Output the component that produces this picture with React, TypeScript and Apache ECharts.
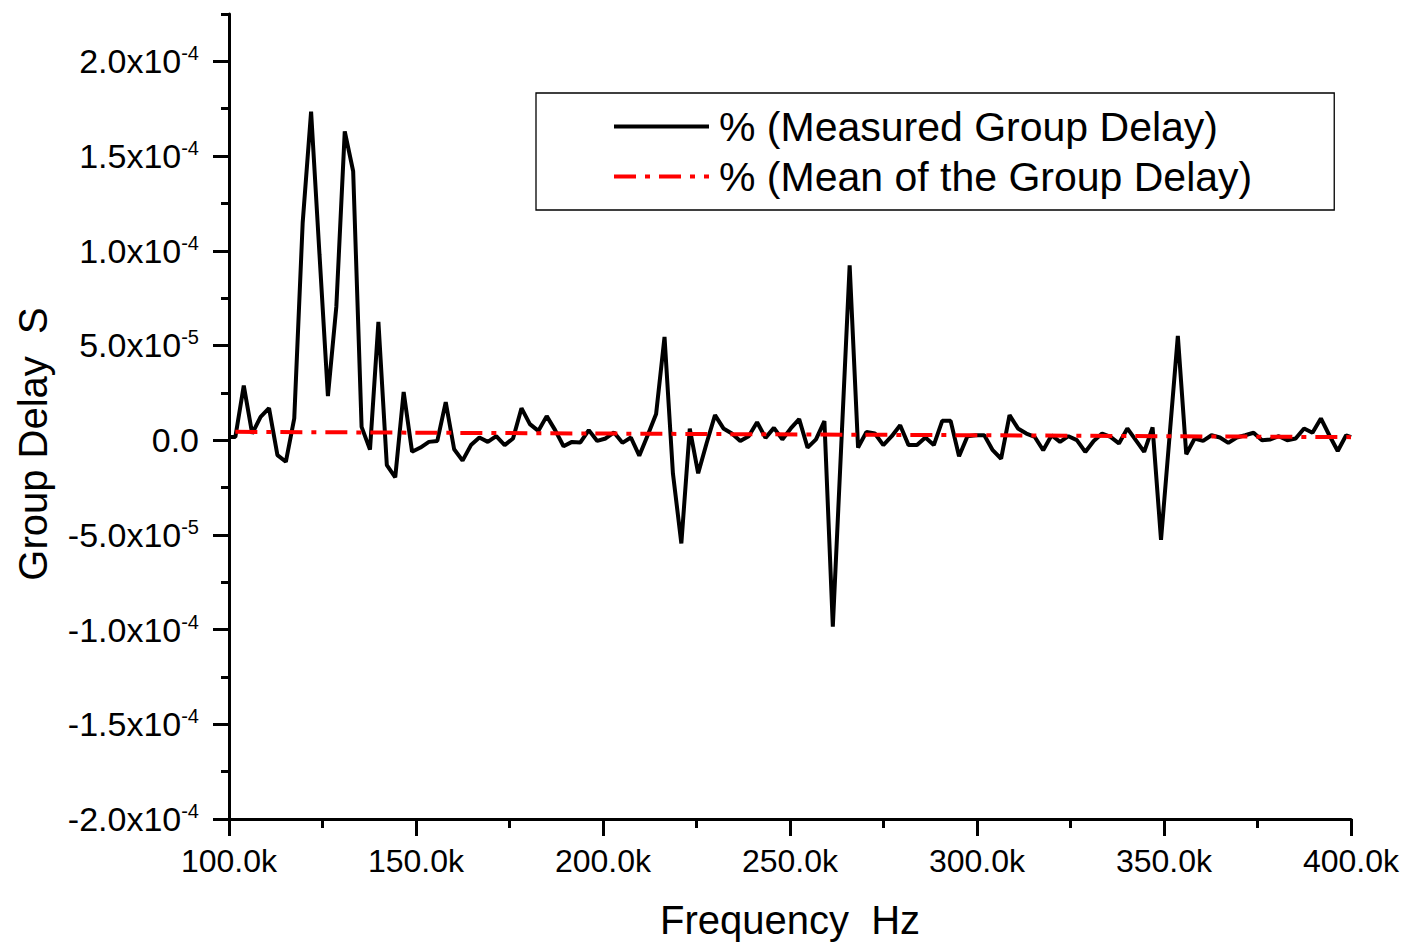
import React, { useEffect, useRef } from "react";
import * as echarts from "echarts";

// Group delay readings in units of 1e-5 s, one every 2.25 kHz from 101.7 kHz.
const SAMPLE_START_KHZ = 101.7;
const SAMPLE_STEP_KHZ = 2.25;
const measuredDelay = [
  0.17, 2.88, 0.35, 1.23, 1.69, -0.79, -1.14, 1.15, 11.48, 17.35,
  9.79, 2.33, 7.05, 16.3, 14.2, 0.7, -0.5, 6.24, -1.32, -1.96,
  2.54, -0.61, -0.39, -0.09, -0.04, 2.01, -0.48, -1.08, -0.26, 0.14,
  -0.09, 0.21, -0.26, 0.09, 1.69, 0.85, 0.49, 1.27, 0.53, -0.32,
  -0.09, -0.12, 0.53, -0.04, 0.09, 0.41, -0.14, 0.14, -0.82, 0.26,
  1.38, 5.45, -1.76, -5.45, 0.61, -1.75, -0.16, 1.32, 0.62, 0.35,
  -0.04, 0.21, 0.95, 0.12, 0.65, 0.04, 0.62, 1.11, -0.39, 0.04,
  1.01, -9.84, -0.29, 9.23, -0.39, 0.44, 0.35, -0.26, 0.21, 0.79,
  -0.26, -0.26, 0.14, -0.26, 1.02, 1.02, -0.85, 0.21, 0.26, 0.26,
  -0.53, -0.98, 1.32, 0.62, 0.35, 0.17, -0.53, 0.26, -0.09, 0.21,
  0, -0.62, -0.04, 0.35, 0.17, -0.17, 0.62, 0, -0.62, 0.67,
  -5.26, 0.12, 5.5, -0.74, 0.09, -0.04, 0.26, 0.14, -0.14, 0.14,
  0.26, 0.39, 0, 0.04, 0.21, 0, 0.09, 0.62, 0.39, 1.15,
  0.26, -0.57, 0.26,
];
// Readings at the two band edges (kHz, 1e-5 s)
const edgeFreqKHz = [100, 400];
const edgeDelay = [0.17, 0.16];

// Mean of the group delay (kHz, 1e-5 s)
const meanFreqKHz = [101.7, 200, 300, 400];
const meanDelay = [0.44, 0.35, 0.26, 0.16];

// Axes
const xMin = 100;
const xMax = 400;
const xInterval = 50;
const yMin = -20;
const yMax = 22.5;
const yTickValues = [-20, -15, -10, -5, 0, 5, 10, 15, 20];
const yTickMantissa = ["-2.0", "-1.5", "-1.0", "-5.0", "0.0", "5.0", "1.0", "1.5", "2.0"];
const yTickExponent = ["-4", "-4", "-4", "-5", "", "-5", "-4", "-4", "-4"];
const yMinorTickValues = [-17.5, -12.5, -7.5, -2.5, 2.5, 7.5, 12.5, 17.5, 22.5];

const seriesNames = ["% (Measured Group Delay)", "% (Mean of the Group Delay)"];
const xAxisTitle = "Frequency  Hz";
const yAxisTitle = "Group Delay  S";

const FONT = '"Liberation Sans", Arial, Helvetica, sans-serif';

export default function App() {
  const ref = useRef<HTMLDivElement>(null);

  useEffect(() => {
    if (!ref.current) return;
    const chart = echarts.init(ref.current, undefined, { renderer: "svg" });

    const measuredPoints: number[][] = [
      [edgeFreqKHz[0], edgeDelay[0]],
      ...measuredDelay.map((v, i) => [SAMPLE_START_KHZ + i * SAMPLE_STEP_KHZ, v]),
      [edgeFreqKHz[1], edgeDelay[1]],
    ];
    const meanPoints = meanFreqKHz.map((f, i) => [f, meanDelay[i]]);

    const axisLine = { show: true, onZero: false, lineStyle: { color: "#000", width: 3 } };

    chart.setOption({
      animation: false,
      backgroundColor: "#fff",
      grid: {
        left: 229,
        right: 54,
        top: 14,
        bottom: 123,
        containLabel: false,
        outerBoundsMode: "none",
      },
      legend: {
        left: 536,
        top: 93,
        orient: "vertical",
        itemWidth: 95,
        itemHeight: 4,
        itemGap: 9,
        padding: [13, 82, 13, 76],
        borderColor: "#000",
        borderWidth: 1.3,
        selectedMode: false,
        itemStyle: { opacity: 0, borderWidth: 0 },
        lineStyle: { width: 4 },
        textStyle: { fontSize: 41, fontFamily: FONT, color: "#000", padding: [0, 0, 0, 5] },
        data: seriesNames,
      },
      xAxis: {
        type: "value",
        min: xMin,
        max: xMax,
        interval: xInterval,
        axisLine,
        axisTick: { show: true, inside: false, length: 17, lineStyle: { color: "#000", width: 3 } },
        minorTick: { show: true, splitNumber: 2, length: 9, lineStyle: { color: "#000", width: 3 } },
        splitLine: { show: false },
        axisLabel: {
          margin: 26,
          fontSize: 32,
          fontFamily: FONT,
          color: "#000",
          formatter: (v: number) => `${v.toFixed(1)}k`,
        },
        name: xAxisTitle,
        nameLocation: "middle",
        nameGap: 81,
        nameTextStyle: { fontSize: 40, fontFamily: FONT, color: "#000" },
      },
      yAxis: [
        {
          type: "value",
          min: yMin,
          max: yMax,
          axisLine,
          axisTick: {
            show: true,
            inside: false,
            length: 16,
            customValues: yTickValues,
            lineStyle: { color: "#000", width: 3 },
          },
          splitLine: { show: false },
          axisLabel: {
            margin: 30,
            customValues: yTickValues,
            formatter: (v: number) => {
              const i = yTickValues.indexOf(v);
              if (i < 0) return "";
              return yTickExponent[i]
                ? `{m|${yTickMantissa[i]}x10}{e|${yTickExponent[i]}}`
                : `{m|${yTickMantissa[i]}}`;
            },
            rich: {
              m: { fontSize: 34, fontFamily: FONT, color: "#000", lineHeight: 36 },
              e: { fontSize: 20, fontFamily: FONT, color: "#000", lineHeight: 20, verticalAlign: "top" },
            },
          },
        },
        {
          type: "value",
          min: yMin,
          max: yMax,
          position: "left",
          axisLine: { show: false },
          axisTick: {
            show: true,
            inside: false,
            length: 8,
            customValues: yMinorTickValues,
            lineStyle: { color: "#000", width: 3 },
          },
          axisLabel: { show: false },
          splitLine: { show: false },
        },
      ],
      graphic: [
        {
          type: "text",
          x: 33,
          y: 444,
          rotation: Math.PI / 2,
          style: {
            text: yAxisTitle,
            fontSize: 40,
            fontFamily: FONT,
            fill: "#000",
            align: "center",
            verticalAlign: "middle",
          },
        },
      ],
      series: [
        {
          name: seriesNames[0],
          type: "line",
          data: measuredPoints,
          symbol: "none",
          lineStyle: { color: "#000", width: 4 },
          itemStyle: { color: "#000" },
          z: 2,
        },
        {
          name: seriesNames[1],
          type: "line",
          data: meanPoints,
          symbol: "none",
          lineStyle: { color: "#ff0000", width: 4, type: [22, 9, 5, 9] },
          itemStyle: { color: "#ff0000" },
          z: 3,
        },
      ],
    });

    return () => chart.dispose();
  }, []);

  return (
    <div
      ref={ref}
      style={{ position: "fixed", left: 0, top: 0, width: 1405, height: 942, background: "#fff" }}
    />
  );
}
